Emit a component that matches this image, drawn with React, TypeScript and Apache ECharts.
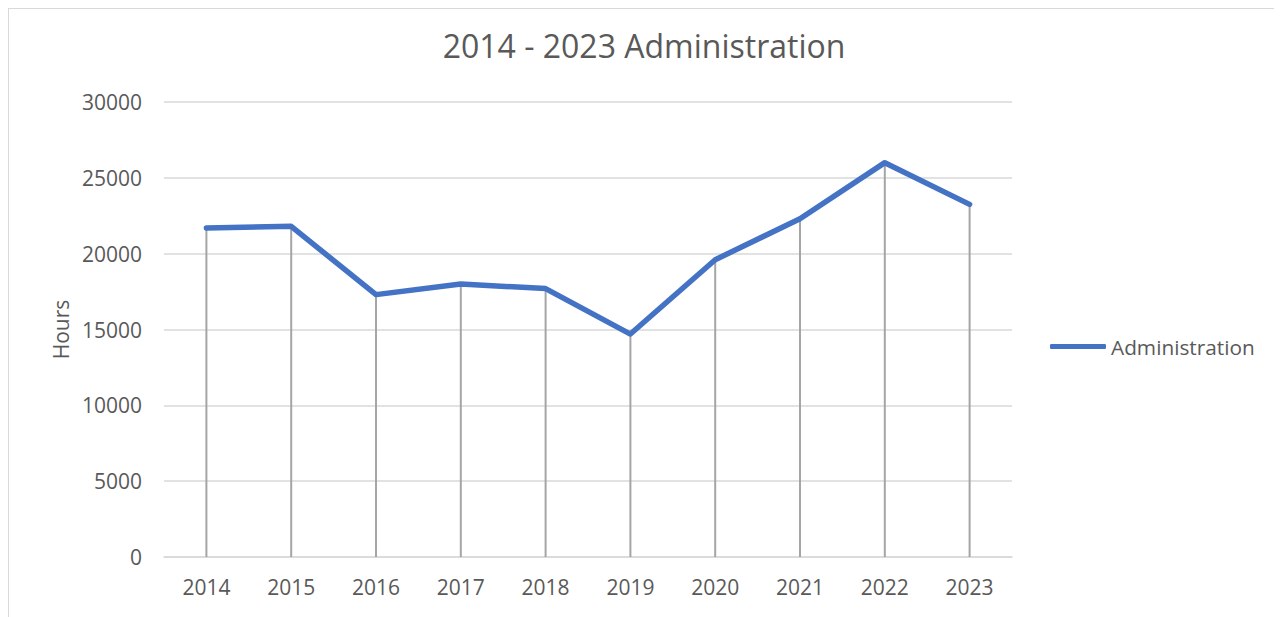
import React, { useEffect, useRef } from "react";
import * as echarts from "echarts";

const years = ["2014", "2015", "2016", "2017", "2018", "2019", "2020", "2021", "2022", "2023"];
const administration = [21700, 21800, 17300, 18000, 17700, 14700, 19600, 22300, 26000, 23250];
const seriesName = "Administration";
const titleText = "2014 - 2023 Administration";
const yAxisName = "Hours";

const FONT = "'Open Sans', 'Noto Sans', sans-serif";
const TEXT = "#595959";

export default function App() {
  const ref = useRef<HTMLDivElement>(null);
  useEffect(() => {
    document.body.style.overflow = "hidden";
    const chart = echarts.init(ref.current!, null, { renderer: "svg" });
    chart.setOption({
      animation: false,
      backgroundColor: "#ffffff",
      title: {
        text: titleText,
        left: "center",
        top: 15,
        textStyle: { fontFamily: FONT, fontSize: 32, fontWeight: "normal", color: TEXT },
      },
      legend: {
        data: [{ name: seriesName, icon: "roundRect" }],
        left: 1036,
        top: 322,
        itemWidth: 56,
        itemHeight: 5,
        itemGap: 4,
        textStyle: { fontFamily: FONT, fontSize: 20.8, color: TEXT },
      },
      grid: { left: 155, right: 267, top: 93, bottom: 60, containLabel: false },
      xAxis: {
        type: "category",
        data: years,
        boundaryGap: true,
        axisLine: { lineStyle: { color: "#d9d9d9", width: 1.5 } },
        axisTick: { show: false },
        axisLabel: { fontFamily: FONT, fontSize: 21, color: TEXT, margin: 19 },
      },
      yAxis: {
        type: "value",
        min: 0,
        max: 30000,
        interval: 5000,
        name: yAxisName,
        nameLocation: "middle",
        nameGap: 92,
        nameTextStyle: { fontFamily: FONT, fontSize: 21, color: TEXT },
        axisLine: { show: false },
        axisTick: { show: false },
        axisLabel: {
          fontFamily: FONT,
          fontSize: 21,
          color: TEXT,
          margin: 22,
          formatter: (v: number) => String(v),
        },
        splitLine: { lineStyle: { color: "#d9d9d9", width: 1.5 } },
      },
      series: [
        {
          type: "bar",
          data: administration,
          barWidth: 2,
          silent: true,
          itemStyle: { color: "#a5a5a5" },
          z: 1,
        },
        {
          name: seriesName,
          type: "line",
          data: administration,
          symbol: "none",
          lineStyle: { color: "#4472C4", width: 5.5, cap: "round", join: "round" },
          itemStyle: { color: "#4472C4" },
          z: 3,
        },
      ],
    });
    return () => chart.dispose();
  }, []);
  return (
    <div
      style={{
        width: 1270,
        height: 608,
        borderTop: "1px solid #d9d9d9",
        borderLeft: "1px solid #d9d9d9",
        borderRight: "1px solid #d9d9d9",
      }}
    >
      <div ref={ref} style={{ width: 1270, height: 608 }} />
    </div>
  );
}
